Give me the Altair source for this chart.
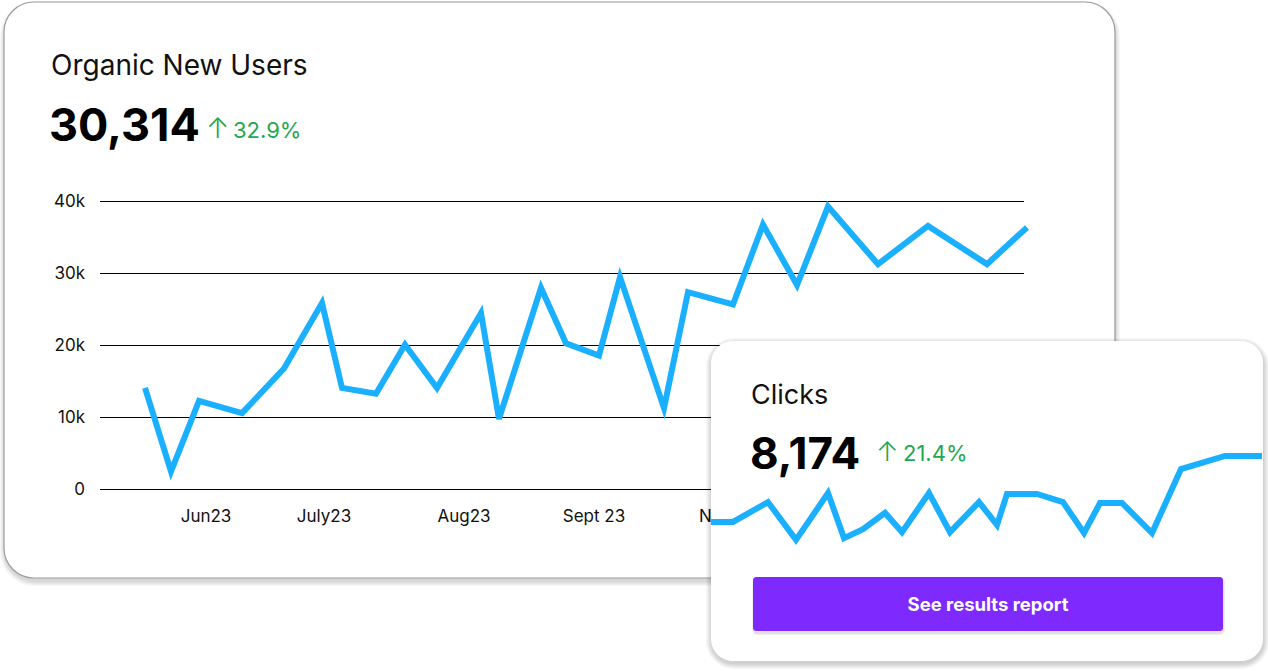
import altair as alt
import pandas as pd

# ---------------- data ----------------
main_x = [45, 71, 99, 142, 184, 222, 242, 276, 305, 337, 381, 399, 441, 466, 499,
          520, 564, 588, 633, 663, 697, 728, 778, 828, 887, 927]
main_users = [14100, 2500, 12300, 10600, 16800, 25900, 14100, 13300, 20100, 14100,
              24500, 9800, 28000, 20300, 18600, 29500, 11300, 27400, 25700, 36800,
              28400, 39300, 31300, 36600, 31300, 36400]
y_ticks = [0, 10000, 20000, 30000, 40000]
y_tick_labels = ["0", "10k", "20k", "30k", "40k"]
month_x = [106, 224, 364, 494, 628]
month_labels = ["Jun23", "July23", "Aug23", "Sept 23", "Nov 23"]

clicks_x = [0, 22, 57, 85, 117, 133, 152, 174, 191, 218, 239, 268, 286, 296, 326,
            352, 373, 389, 411, 441, 470, 514, 551]
clicks_v = [127, 127, 193, 67, 223, 73, 103, 157, 93, 223, 93, 193, 117, 220, 220,
            193, 90, 190, 190, 90, 303, 347, 347]

main_title = "Organic New Users"
main_total = "30,314"
main_change = "32.9%"
clicks_title = "Clicks"
clicks_total = "8,174"
clicks_change = "21.4%"
button_label = "See results report"

# ---------------- styles ----------------
FONT = "Inter"
BLUE = "#1AB0FF"
GREEN = "#1FA84F"
PURPLE = "#7E29FE"

one = pd.DataFrame({"k": [0]})


def rect(x1, y1, x2, y2, r, fill, opacity=1.0, stroke=None, sw=0):
    kw = dict(cornerRadius=r, fill=fill, opacity=opacity)
    if stroke:
        kw.update(stroke=stroke, strokeWidth=sw)
    else:
        kw.update(strokeWidth=0)
    return alt.Chart(one).mark_rect(**kw).encode(
        x=alt.value(x1), x2=alt.value(x2), y=alt.value(y1), y2=alt.value(y2))


def shadow(x1, y1, x2, y2, r, dy=3, steps=4, op=0.035):
    out = []
    for i in range(steps, 0, -1):
        out.append(rect(x1 - i + 1, y1 - i + 1 + dy, x2 + i, y2 + i + dy, r + i, "#000", op))
    return out


def label(txt, x, y, size, weight="normal", color="#111", align="left", baseline="alphabetic", font=FONT):
    return alt.Chart(one).mark_text(
        text=txt, font=font, fontSize=size, fontWeight=weight, color=color,
        align=align, baseline=baseline).encode(x=alt.value(x), y=alt.value(y))


layers = []

# main card
layers += shadow(4, 2, 1115, 578, 30, dy=3, steps=5, op=0.03)
layers.append(rect(4, 2, 1115, 578, 30, "white", 1.0, "#9C9C9C", 1.2))
layers.append(label(main_title, 51, 75, 28))
layers.append(label(main_total, 49, 141, 45, weight="bold", color="#000"))
layers.append(label("↑", 206, 138, 28, weight=300, color=GREEN))
layers.append(label(main_change, 233, 138, 22, color=GREEN))

xs_main = alt.Scale(domain=[0, 924], range=[100, 1024], nice=False, zero=False)
ys_main = alt.Scale(domain=[0, 40000], range=[489.5, 201.5], nice=False, zero=False)

grid_df = pd.DataFrame({"v": y_ticks, "lab": y_tick_labels})
layers.append(alt.Chart(grid_df).mark_rule(color="#000", strokeWidth=1).encode(
    y=alt.Y("v:Q", scale=ys_main, axis=None), x=alt.value(100), x2=alt.value(1024)))
layers.append(alt.Chart(grid_df).mark_text(
    font=FONT, fontSize=17, color="#111", align="right", baseline="middle").encode(
    y=alt.Y("v:Q", scale=ys_main, axis=None), x=alt.value(85), text="lab:N"))

month_df = pd.DataFrame({"x": month_x, "lab": month_labels})
layers.append(alt.Chart(month_df).mark_text(
    font=FONT, fontSize=17, color="#111", align="center", baseline="middle").encode(
    x=alt.X("x:Q", scale=xs_main, axis=None), y=alt.value(517), text="lab:N"))

main_df = pd.DataFrame({"x": main_x, "users": main_users})
layers.append(alt.Chart(main_df).mark_line(
    color=BLUE, strokeWidth=6, strokeJoin="miter", strokeCap="butt").encode(
    x=alt.X("x:Q", scale=xs_main, axis=None),
    y=alt.Y("users:Q", scale=ys_main, axis=None)))

# clicks card
layers += shadow(711, 341, 1263, 661, 22, dy=2, steps=6, op=0.03)
layers.append(rect(711, 341, 1263, 661, 22, "white"))
layers.append(label(clicks_title, 751, 404, 27))
layers.append(label(clicks_total, 750, 469, 44, weight="bold", color="#000"))
layers.append(label("↑", 876, 461, 27, weight=300, color=GREEN))
layers.append(label(clicks_change, 903, 461, 22, color=GREEN))

xs_c = alt.Scale(domain=[0, 551], range=[711, 1262], nice=False, zero=False)
ys_c = alt.Scale(domain=[0, 400], range=[560, 440], nice=False, zero=False)
clicks_df = pd.DataFrame({"x": clicks_x, "clicks": clicks_v})
layers.append(alt.Chart(clicks_df).mark_line(
    color=BLUE, strokeWidth=6, strokeJoin="miter", strokeCap="butt").encode(
    x=alt.X("x:Q", scale=xs_c, axis=None),
    y=alt.Y("clicks:Q", scale=ys_c, axis=None)))

# button
layers += shadow(753, 577, 1223, 631, 3, dy=2, steps=2, op=0.06)
layers.append(rect(753, 577, 1223, 631, 3, PURPLE))
layers.append(label(button_label, 988, 605, 18.5, weight="bold", color="white",
                    align="center", baseline="middle"))

chart = alt.layer(*layers).resolve_scale(x="independent", y="independent").properties(
    width=1268, height=671, padding=0,
    autosize=alt.AutoSizeParams(type="none"),
    background="white",
).configure_view(stroke=None)

chart.save("out.html", embed_options={"renderer": "svg", "actions": False})
